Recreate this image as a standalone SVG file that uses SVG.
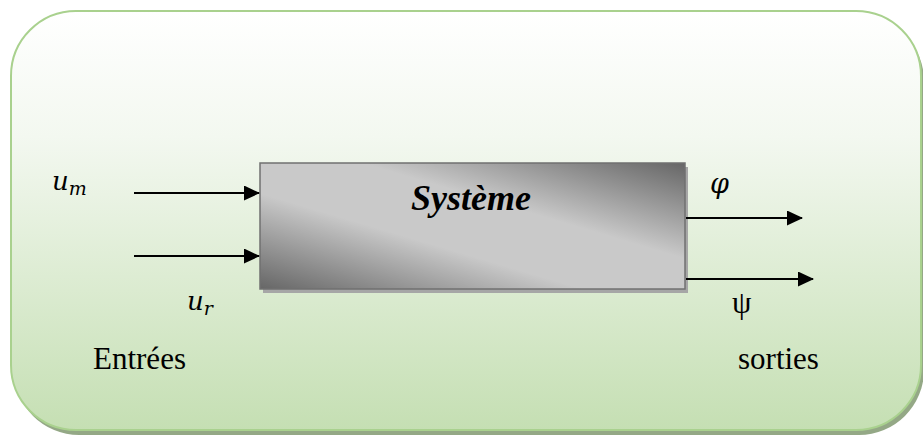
<svg xmlns="http://www.w3.org/2000/svg" width="923" height="437" viewBox="0 0 923 437">
  <defs>
    <linearGradient id="bgGrad" x1="0" y1="0" x2="0" y2="1">
      <stop offset="0" stop-color="#ffffff"/>
      <stop offset="0.3" stop-color="#f3f8f0"/>
      <stop offset="1" stop-color="#c5dfb3"/>
    </linearGradient>
    <linearGradient id="boxGrad" x1="0" y1="1" x2="1" y2="0">
      <stop offset="0" stop-color="#666666"/>
      <stop offset="0.38" stop-color="#c9c9c9"/>
      <stop offset="0.62" stop-color="#c9c9c9"/>
      <stop offset="1" stop-color="#666666"/>
    </linearGradient>
    <marker id="arrow" markerWidth="16" markerHeight="15" refX="15" refY="7.5" orient="auto" markerUnits="userSpaceOnUse">
      <path d="M0,0 L16,7.5 L0,15 Z" fill="#000"/>
    </marker>
    <style>
      .conn { stroke: #000; stroke-width: 2; fill: none; }
      .math { font-family: "DejaVu Serif", serif; font-style: italic; fill: #000; }
      .serif { font-family: "Liberation Serif", serif; fill: #000; }
      .lbl { font-size: 31px; }
    </style>
  </defs>

  <g id="background">
    <rect x="14" y="16" width="910" height="419" rx="65" ry="65" fill="#94a886"/>
    <rect x="11" y="11" width="910" height="419" rx="65" ry="65" fill="url(#bgGrad)" stroke="#a9d18e" stroke-width="2"/>
  </g>

  <g id="systeme">
    <rect x="263" y="167" width="425" height="126" fill="#a6a6a6"/>
    <rect x="260" y="163" width="425" height="126" fill="url(#boxGrad)" stroke="#707070" stroke-width="1.5"/>
    <text class="serif" x="471" y="210" text-anchor="middle" font-size="36" font-weight="bold" font-style="italic">Système</text>
  </g>

  <g id="connectors">
    <line class="conn" x1="134" y1="193" x2="259" y2="193" marker-end="url(#arrow)"/>
    <line class="conn" x1="134" y1="256" x2="259" y2="256" marker-end="url(#arrow)"/>
    <line class="conn" x1="686" y1="218" x2="802" y2="218" marker-end="url(#arrow)"/>
    <line class="conn" x1="686" y1="279" x2="813" y2="279" marker-end="url(#arrow)"/>
  </g>

  <g id="label-um">
    <text class="math" x="52" y="190" font-size="26">u<tspan font-size="19" dy="5">m</tspan></text>
  </g>
  <g id="label-ur">
    <text class="math" x="187" y="310" font-size="26">u<tspan font-size="19" dy="5">r</tspan></text>
  </g>
  <g id="label-phi">
    <text class="math" x="710" y="193" font-size="27">φ</text>
  </g>
  <g id="label-psi">
    <text class="serif" x="732" y="313" font-size="31">ψ</text>
  </g>
  <g id="label-entrees">
    <text class="serif lbl" x="93" y="369">Entrées</text>
  </g>
  <g id="label-sorties">
    <text class="serif lbl" x="738" y="369">sorties</text>
  </g>
</svg>
